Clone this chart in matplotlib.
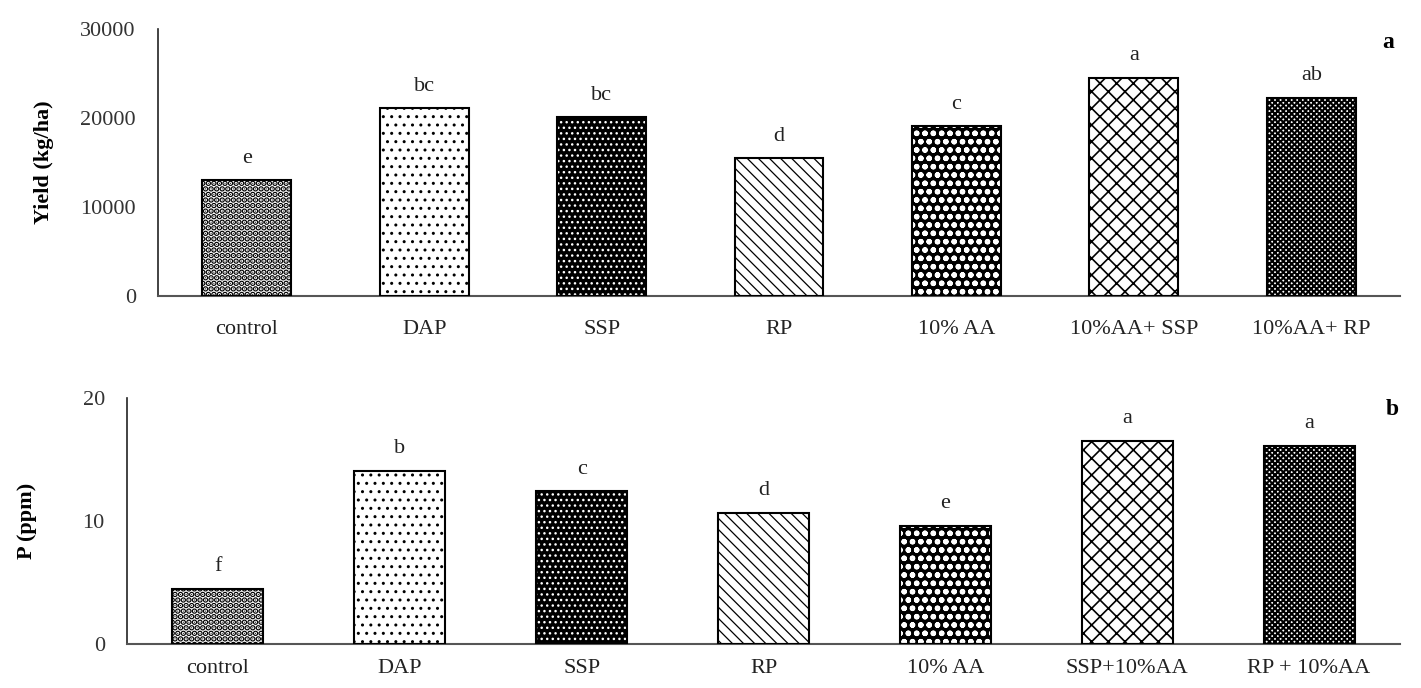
import matplotlib
matplotlib.use("Agg")
import matplotlib.pyplot as plt

plt.rcParams['font.family'] = ['Liberation Serif', 'DejaVu Serif']

# ---- data ----
cats_a = ["control", "DAP", "SSP", "RP", "10% AA", "10%AA+ SSP", "10%AA+ RP"]
yield_vals = [13000, 21100, 20100, 15500, 19100, 24500, 22250]
letters_a = ["e", "bc", "bc", "d", "c", "a", "ab"]

cats_b = ["control", "DAP", "SSP", "RP", "10% AA", "SSP+10%AA", "RP + 10%AA"]
p_vals = [4.5, 14.1, 12.4, 10.65, 9.6, 16.5, 16.1]
letters_b = ["f", "b", "c", "d", "e", "a", "a"]

# (facecolor, hatchcolor, hatch, hatch linewidth) per treatment
styles = [
    ("white", "black", "...", 3.0),
    ("white", "black", "..", 1.0),
    ("black", "white", "...", 1.0),
    ("white", "black", "\\\\\\", 0.9),
    ("black", "white", "oo", 1.6),
    ("white", "black", "xx", 1.2),
    ("white", "black", "xxxxxx", 1.5),
]

fig = plt.figure(figsize=(14.21, 6.88), dpi=100)
ax1 = fig.add_axes([0.1112, 0.5698, 0.874, 0.388])
ax2 = fig.add_axes([0.0894, 0.064, 0.8958, 0.3576])

FS = 16


def draw(ax, cats, vals, letters, ymax, yticks, xpad, ypad):
    x = list(range(len(cats)))
    for i, v in enumerate(vals):
        fc, hc, h, hlw = styles[i]
        with plt.rc_context({'hatch.linewidth': hlw}):
            bars = ax.bar(x[i], v, width=0.5, color=fc, edgecolor=hc, hatch=h, linewidth=0, zorder=2)
        for b in bars:
            try:
                b.set_hatch_linewidth(hlw)
            except AttributeError:
                pass
        ax.bar(x[i], v, width=0.5, facecolor="none", edgecolor="black", linewidth=1.5, zorder=3)
        ax.annotate(letters[i], (x[i], v), xytext=(0, 9), textcoords="offset points",
                    ha="center", va="bottom", fontsize=FS, color="#222222")
    ax.set_xlim(-0.5, len(cats) - 0.5)
    ax.set_ylim(0, ymax)
    ax.set_yticks(yticks)
    ax.set_xticks(x)
    ax.set_xticklabels(cats, fontsize=FS)
    ax.tick_params(axis="both", length=0, labelsize=FS)
    ax.tick_params(axis="x", pad=xpad, colors="#222222")
    ax.tick_params(axis="y", pad=ypad, colors="#333333")
    for s in ["top", "right"]:
        ax.spines[s].set_visible(False)
    ax.spines["left"].set_color("#222222")
    ax.spines["bottom"].set_color("#555555")
    ax.spines["left"].set_linewidth(1.2)
    ax.spines["bottom"].set_linewidth(1.5)


draw(ax1, cats_a, yield_vals, letters_a, 30000, [0, 10000, 20000, 30000], 17, 16)
draw(ax2, cats_b, p_vals, letters_b, 20, [0, 10, 20], 11, 16)

ax1.set_ylabel("Yield (kg/ha)", fontsize=FS, fontweight="bold")
ax2.set_ylabel("P (ppm)", fontsize=FS, fontweight="bold")
ax1.yaxis.set_label_coords(-0.0835, 0.5)
ax2.yaxis.set_label_coords(-0.071, 0.5)

fig.text(1388 / 1421, 1 - 42 / 688, "a", fontsize=17, fontweight="bold", ha="center", va="center")
fig.text(1392 / 1421, 1 - 410 / 688, "b", fontsize=17, fontweight="bold", ha="center", va="center")

fig.savefig("out.png", dpi=100)
